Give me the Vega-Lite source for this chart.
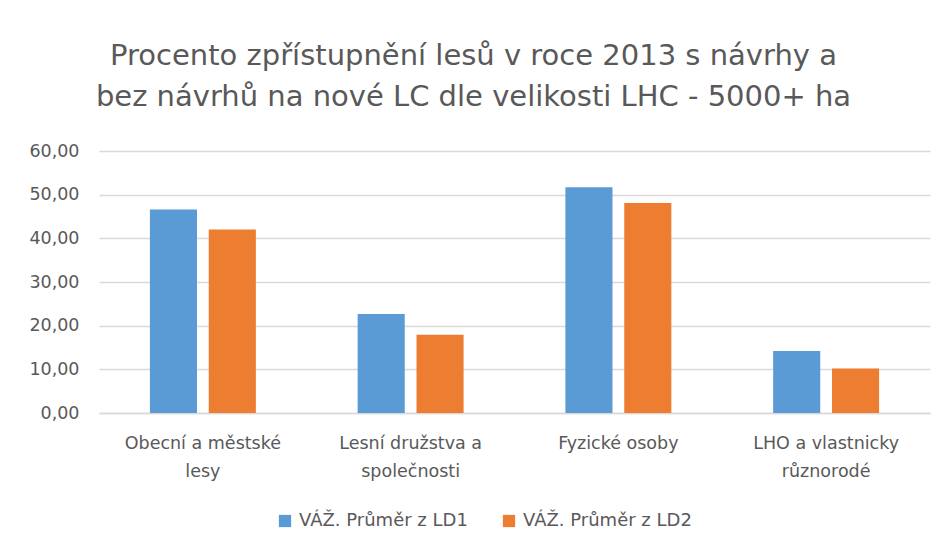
{
  "$schema": "https://vega.github.io/schema/vega-lite/v6.json",
  "autosize": {"type": "none"},
  "width": 831,
  "height": 262,
  "padding": {"left": 99, "top": 151, "right": 16, "bottom": 138},
  "background": "white",
  "title": {
    "text": ["Procento zpřístupnění lesů v roce 2013 s návrhy a", "bez návrhů na nové LC dle velikosti LHC - 5000+ ha"],
    "font": "DejaVu Sans",
    "fontSize": 29,
    "fontWeight": "normal",
    "color": "#595959",
    "anchor": "middle",
    "dx": -41,
    "offset": 30,
    "lineHeight": 41
  },
  "data": {
    "values": [
      {"kategorie": "Obecní a městské lesy", "serie": "VÁŽ. Průměr z LD1", "hodnota": 46.6},
      {"kategorie": "Obecní a městské lesy", "serie": "VÁŽ. Průměr z LD2", "hodnota": 42.0},
      {"kategorie": "Lesní družstva a společnosti", "serie": "VÁŽ. Průměr z LD1", "hodnota": 22.7},
      {"kategorie": "Lesní družstva a společnosti", "serie": "VÁŽ. Průměr z LD2", "hodnota": 17.9},
      {"kategorie": "Fyzické osoby", "serie": "VÁŽ. Průměr z LD1", "hodnota": 51.7},
      {"kategorie": "Fyzické osoby", "serie": "VÁŽ. Průměr z LD2", "hodnota": 48.1},
      {"kategorie": "LHO a vlastnicky různorodé", "serie": "VÁŽ. Průměr z LD1", "hodnota": 14.2},
      {"kategorie": "LHO a vlastnicky různorodé", "serie": "VÁŽ. Průměr z LD2", "hodnota": 10.2}
    ]
  },
  "mark": {"type": "bar"},
  "encoding": {
    "x": {
      "field": "kategorie",
      "type": "nominal",
      "sort": null,
      "scale": {"paddingInner": 0.49, "paddingOuter": 0.245},
      "axis": {
        "title": null,
        "labelAngle": 0,
        "ticks": false,
        "domain": true,
        "domainColor": "#D9D9D9",
        "domainWidth": 1.5,
        "labelFont": "DejaVu Sans",
        "labelFontSize": 17.5,
        "labelColor": "#595959",
        "labelPadding": 21,
        "labelLineHeight": 28,
        "labelBaseline": "top",
        "labelLimit": 0,
        "labelExpr": "datum.value == 'Obecní a městské lesy' ? ['Obecní a městské', 'lesy'] : datum.value == 'Lesní družstva a společnosti' ? ['Lesní družstva a', 'společnosti'] : datum.value == 'LHO a vlastnicky různorodé' ? ['LHO a vlastnicky', 'různorodé'] : datum.value"
      }
    },
    "xOffset": {
      "field": "serie",
      "type": "nominal",
      "scale": {"paddingInner": 0.2, "paddingOuter": 0}
    },
    "y": {
      "field": "hodnota",
      "type": "quantitative",
      "scale": {"domain": [0, 60], "nice": false},
      "axis": {
        "title": null,
        "values": [0, 10, 20, 30, 40, 50, 60],
        "domain": false,
        "ticks": false,
        "grid": true,
        "gridColor": "#D9D9D9",
        "gridWidth": 1.5,
        "labelFont": "DejaVu Sans",
        "labelFontSize": 17.5,
        "labelColor": "#595959",
        "labelPadding": 20,
        "labelExpr": "replace(format(datum.value, '.2f'), '.', ',')"
      }
    },
    "color": {
      "field": "serie",
      "type": "nominal",
      "scale": {"domain": ["VÁŽ. Průměr z LD1", "VÁŽ. Průměr z LD2"], "range": ["#5B9BD5", "#ED7D31"]},
      "legend": {
        "title": null,
        "orient": "none",
        "direction": "horizontal",
        "legendX": 177,
        "legendY": 361,
        "symbolType": "square",
        "symbolSize": 150,
        "symbolStrokeWidth": 0,
        "labelFont": "DejaVu Sans",
        "labelFontSize": 18,
        "labelColor": "#595959",
        "labelOffset": 5,
        "labelLimit": 0,
        "columnPadding": 32
      }
    }
  },
  "config": {
    "view": {"stroke": null}
  }
}
